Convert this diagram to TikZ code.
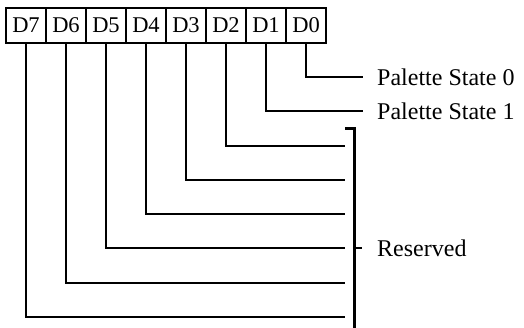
\documentclass[tikz,border=0pt]{standalone}
\usepackage{fontspec}
\setmainfont{Liberation Serif}
\begin{document}
\begin{tikzpicture}[x=1pt,y=-1pt,
  bitbox/.style={draw,line width=2pt,minimum width=40pt,minimum height=35pt,inner sep=0pt,font=\fontsize{22.5}{22.5}\selectfont},
  wire/.style={line width=2pt},
  brk/.style={line width=3pt},
  lbl/.style={anchor=west,inner sep=0pt,font=\fontsize{24}{24}\selectfont}]
\useasboundingbox (0,0) rectangle (524,328);
\foreach \t [count=\i from 0] in {D7,D6,D5,D4,D3,D2,D1,D0}
  \node[bitbox] (\t) at ({6+40*\i+20},25.5) {\t};
% wire ends
\coordinate (e0) at (363,77);
\coordinate (e1) at (363,111);
\coordinate (e2) at (345,146);
\coordinate (e3) at (345,180);
\coordinate (e4) at (345,214);
\coordinate (e5) at (345,248);
\coordinate (e6) at (345,283);
\coordinate (e7) at (345,317);
\draw[wire] (D0.south) |- (e0);
\draw[wire] (D1.south) |- (e1);
\draw[wire] (D2.south) |- (e2);
\draw[wire] (D3.south) |- (e3);
\draw[wire] (D4.south) |- (e4);
\draw[wire] (D5.south) |- (e5);
\draw[wire] (D6.south) |- (e6);
\draw[wire] (D7.south) |- (e7);
% bracket
\coordinate (bt0) at (345,128.5);
\coordinate (bt1) at (354.5,128.5);
\coordinate (bb) at (354.5,329);
\coordinate (bm) at (354.5,248);
\coordinate (bmt) at (362,248);
\draw[brk] (bt0) -- (bt1) -- (bb);
\draw[wire] (bm) -- (bmt);
% labels
\node[lbl] (ps0) at (377,77.5) {Palette State 0};
\node[lbl] (ps1) at (377,111) {Palette State 1};
\node[lbl] (res) at (377,248.5) {Reserved};
\end{tikzpicture}
\end{document}
